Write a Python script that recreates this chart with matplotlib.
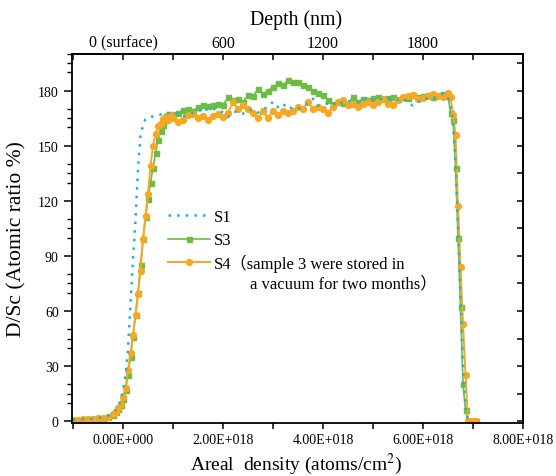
import matplotlib
matplotlib.use("Agg")
import matplotlib.pyplot as plt
import numpy as np
from matplotlib.ticker import FixedLocator, MultipleLocator
# =========================================================================== #

plt.rcParams['font.family'] = ['Liberation Serif', 'Noto Sans CJK SC']
plt.rcParams['mathtext.fontset'] = 'stix'

# areal density, in units of 1E+018 atoms/cm2
x = [-1.0, -0.9, -0.8, -0.7, -0.6, -0.5, -0.4, -0.3, -0.2,
     -0.15, -0.1, -0.05, 0.0, 0.05, 0.1, 0.15, 0.2, 0.25, 0.3, 0.35, 0.4,
     0.45, 0.5, 0.55, 0.6, 0.65, 0.7, 0.75, 0.8, 0.85, 0.9, 0.95, 1.0,
     1.1, 1.2, 1.3, 1.4, 1.5, 1.6, 1.7, 1.8, 1.9, 2.0,
     2.1, 2.2, 2.3, 2.4, 2.5, 2.6, 2.7, 2.8, 2.9, 3.0,
     3.1, 3.2, 3.3, 3.4, 3.5, 3.6, 3.7, 3.8, 3.9, 4.0,
     4.1, 4.2, 4.3, 4.4, 4.5, 4.6, 4.7, 4.8, 4.9, 5.0,
     5.1, 5.2, 5.3, 5.4, 5.5, 5.6, 5.7, 5.8, 5.9, 6.0,
     6.1, 6.2, 6.3, 6.4, 6.5,
     6.55, 6.6, 6.65, 6.7, 6.75, 6.8, 6.85, 6.9, 6.95, 7.0, 7.05]

s1 = [0.7, 0.8, 1.0, 1.1, 1.3, 1.7, 2.2, 3.0, 4.8,
      6, 8, 11, 17, 25, 39, 64, 88, 110, 137, 156, 161,
      164.5, 165.5, 165.8, 166, 166.5, 167, 167, 167.5, 167, 168, 167.5, 168,
      167.5, 166, 167, 168, 168, 171, 169, 170, 170, 168,
      165.6, 168, 169, 167.5, 169, 170, 168, 170, 171, 174,
      171, 173, 170, 171, 170, 172, 173, 175.6, 172, 173,
      173, 172, 174.5, 173, 174, 175, 174, 175, 176.5, 175,
      176, 175, 175.6, 176, 175, 176, 173, 172, 174, 174,
      176.5, 176, 177, 178.4, 176,
      172, 162, 142, 107, 68, 29, 8, 0, np.nan, np.nan, np.nan]

s3 = [0.5, 0.8, 1.0, 1.0, 1.2, 1.4, 1.8, 2.2, 3.5,
      4.8, 6.5, 9, 12, 17, 25, 35, 46, 58, 70, 85, 99,
      111, 121, 130, 138, 146, 153, 158, 161.5, 164, 165.5, 167.5, 167,
      168, 169.5, 170, 169, 171, 172, 171.5, 172, 173, 172,
      176.5, 175, 175.6, 174, 177.5, 177, 181, 178, 180, 182,
      184, 183, 185.6, 185, 184.7, 183, 182, 180, 179, 177.5,
      175, 173, 174, 173.5, 173, 176.5, 174, 175.6, 175, 176,
      176.5, 175.6, 176, 176.5, 175.6, 176.5, 176, 177.5, 176.5, 177,
      177.5, 176.5, 177.5, 178, 177,
      168, 164, 138, 100, 62, 20, 6, 0, 0, 0, 0]

s4 = [0.8, 0.5, 1.0, 1.2, 1.0, 1.5, 1.6, 2.3, 3.8,
      5, 7, 9.5, 13, 18, 28, 37, 47, 58, 69, 82, 99,
      112, 124, 139, 150, 156.5, 161, 162, 164.5, 166, 164, 167, 165,
      163, 164, 166.5, 167.5, 165, 166, 164, 166, 167.5, 165.6,
      168, 174, 170, 172, 170, 168, 165, 169, 165, 169,
      166.5, 169, 168, 169, 171, 170, 174, 170, 171, 170,
      168, 171, 174, 175, 172, 173, 171, 173, 174, 172,
      174, 175.6, 173, 172, 175, 176.5, 177, 177.5, 175.6, 176,
      177, 178.4, 177, 176.5, 179,
      176.5, 167, 156, 117, 84, 53, 25, 0, 0, 0, 0]

x_ticks = [0, 2, 4, 6, 8]
x_labels = ['0.00E+000', '2.00E+018', '4.00E+018', '6.00E+018', '8.00E+018']
depth_ticks = [0, 2, 4, 6]
depth_labels = ['0 (surface)', '600', '1200', '1800']
y_ticks = [0, 30, 60, 90, 120, 150, 180]

note1 = '（sample 3 were stored in'
note2 = 'a vacuum for two months）'

# =========================================================================== #

def plot_profiles():
    xs = np.array(x) * 1e18

    fig = plt.figure(figsize=(5.56, 4.77), dpi=100)
    ax = fig.add_axes([0.1295, 0.1111, 0.8112, 0.7736])

    # draw order: S3, S4, S1 on top
    l3, = ax.plot(xs, s3, color='#6BBD45', marker='s', markersize=3.6,
                  linewidth=1.2, label='S3')
    l4, = ax.plot(xs, s4, color='#F7A823', marker='o', markersize=4.2,
                  linewidth=1.4, label='S4')
    l1, = ax.plot(xs, s1, color='#1CB2D9', linestyle=(0, (1, 2.45)),
                  linewidth=1.8, label='S1')

    ax.set_xlim(-1.02e18, 8.0e18)
    ax.set_ylim(-1, 200)

    # bottom / left ticks (outward)
    ax.set_xticks(np.array(x_ticks) * 1e18, x_labels)
    ax.xaxis.set_minor_locator(MultipleLocator(1e18))
    ax.set_yticks(y_ticks)
    ax.yaxis.set_minor_locator(FixedLocator(
        [v for v in range(5, 201, 5) if v % 30 in (10, 15, 20)]))
    ax.tick_params(axis='x', which='both', direction='out', length=4,
                   width=1.1, labelsize=10, pad=3.5)
    ax.tick_params(axis='y', which='major', direction='out', length=6,
                   width=1.1, labelsize=10)
    ax.tick_params(axis='y', which='minor', direction='out', length=3.5,
                   width=1.0)

    # top axis: depth
    top = ax.secondary_xaxis('top')
    top.set_xticks(np.array(depth_ticks) * 1e18, depth_labels)
    top.xaxis.set_minor_locator(MultipleLocator(1e18))
    top.tick_params(which='both', direction='in', length=4.5, width=1.1,
                    labelsize=11.5, pad=2.5)
    ax.text(0.497, 1.095, 'Depth (nm)', transform=ax.transAxes,
            fontsize=14.3, ha='center', va='center')

    # right axis: ticks only
    right = ax.secondary_yaxis('right')
    right.set_yticks(y_ticks, [''] * len(y_ticks))
    right.yaxis.set_minor_locator(MultipleLocator(15))
    right.tick_params(which='both', direction='in', length=4.5, width=1.1)

    for sp in list(ax.spines.values()) + [top.spines['top'], right.spines['right']]:
        sp.set_linewidth(1.3)

    ax.set_xlabel('Areal  density (atoms/cm$^2$)', fontsize=14)
    ax.xaxis.set_label_coords(0.497, -0.075)
    ax.set_ylabel('D/Sc (Atomic ratio %)', fontsize=15.5)
    ax.yaxis.set_label_coords(-0.10, 0.5)

    # legend + note
    ax.legend([l1, l3, l4], ['S1', 'S3', 'S4'], loc='upper left',
              bbox_to_anchor=(0.213, 0.58), frameon=False, fontsize=12,
              handlelength=2.5, handletextpad=0.25, labelspacing=0.45,
              borderpad=0, borderaxespad=0)
    ax.text(0.350, 0.434, note1, transform=ax.transAxes, fontsize=12,
            va='center', ha='left')
    ax.text(0.395, 0.377, note2, transform=ax.transAxes, fontsize=12,
            va='center', ha='left')

    fig.savefig('out.png', dpi=100)

if __name__ == "__main__":
    plot_profiles()
